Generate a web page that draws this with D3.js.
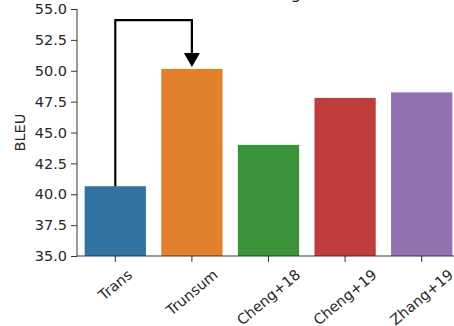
<!DOCTYPE html>
<html>
<head>
<meta charset="utf-8">
<script src="https://cdnjs.cloudflare.com/ajax/libs/d3/7.8.5/d3.min.js"></script>
<style>
  body { margin: 0; background: #fff; }
  svg { display: block; font-family: "DejaVu Sans", sans-serif; }
  .tick text { fill: #262626; }
</style>
</head>
<body>
<svg id="chart" width="454" height="326"></svg>
<script>
// data
var models = ["Trans", "Trunsum", "Cheng+18", "Cheng+19", "Zhang+19"];
var bleu = [40.65, 50.15, 44.0, 47.8, 48.25];
var colors = ["#3274a1", "#e1812c", "#3a923a", "#c03d3e", "#9372b2"];
var yTicks = [35.0, 37.5, 40.0, 42.5, 45.0, 47.5, 50.0, 52.5, 55.0];
// arrow path: from Trans bar up, across, down to Trunsum bar
var arrowCats = ["Trans", "Trans", "Trunsum", "Trunsum"];
var arrowVals = [40.65, 54.1, 54.1, 51.3];
var arrowTip = 50.3;
var title = "Training";

drawChart(d3.select("#chart"));

function drawChart(svg) {
	var plotLeft = 77, plotTop = 9, plotBottom = 256, plotRight = 460;
	var fs = 14.5;

	var x = d3.scaleBand().domain(models).range([plotLeft, plotRight]).paddingInner(0.2).paddingOuter(0.1);
	var y = d3.scaleLinear().domain([35, 55]).range([plotBottom, plotTop]);

	// title, mostly above the visible area
	svg.append("text")
		.attr("x", x("Trunsum") + x.bandwidth() / 2 + 109)
		.attr("y", -1)
		.attr("text-anchor", "end")
		.attr("font-size", 16)
		.attr("fill", "#262626")
		.text(title);

	// bars
	svg.append("g").selectAll("rect")
		.data(models)
		.enter().append("rect")
		.attr("x", function(d) { return x(d); })
		.attr("width", x.bandwidth())
		.attr("y", function(d, i) { return y(bleu[i]); })
		.attr("height", function(d, i) { return plotBottom - y(bleu[i]); })
		.attr("fill", function(d, i) { return colors[i]; });

	// y axis
	var yAxis = svg.append("g")
		.attr("transform", "translate(" + plotLeft + ",0)")
		.call(d3.axisLeft(y).tickValues(yTicks).tickFormat(d3.format(".1f")).tickSize(6).tickPadding(4));
	yAxis.selectAll("text").attr("font-size", fs).attr("font-family", "DejaVu Sans");
	yAxis.select(".domain").attr("d", "M0," + plotTop + "V" + plotBottom);

	// x axis
	var xAxis = svg.append("g")
		.attr("transform", "translate(0," + plotBottom + ")")
		.call(d3.axisBottom(x).tickSize(6).tickSizeOuter(0));
	xAxis.select(".domain").attr("d", "M" + plotLeft + ",0H" + 454);
	xAxis.selectAll(".tick text").remove();
	xAxis.selectAll("path, line").attr("stroke", "#333");
	yAxis.selectAll("path, line").attr("stroke", "#333");

	// rotated tick labels, centered under each tick like matplotlib ha=center
	var angle = 40 * Math.PI / 180;
	xAxis.selectAll(".tick").append("text")
		.attr("font-size", fs)
		.attr("font-family", "DejaVu Sans")
		.attr("fill", "#262626")
		.attr("text-anchor", "middle")
		.attr("dominant-baseline", "central")
		.text(function(d) { return d; })
		.attr("transform", function() {
			var w = this.getComputedTextLength(), h = fs;
			var bh = w * Math.sin(angle) + h * Math.cos(angle);
			return "translate(0," + (11 + bh / 2) + ") rotate(-40)";
		});

	// y label
	svg.append("text")
		.attr("transform", "translate(25," + ((plotTop + plotBottom) / 2) + ") rotate(-90)")
		.attr("text-anchor", "middle")
		.attr("font-size", fs)
		.attr("fill", "#262626")
		.text("BLEU");

	// arrow
	var pts = arrowCats.map(function(c, i) { return [x(c) + x.bandwidth() / 2, y(arrowVals[i])]; });
	svg.append("path")
		.attr("d", d3.line()(pts))
		.attr("fill", "none")
		.attr("stroke", "#000")
		.attr("stroke-width", 2.2);

	var tipX = x("Trunsum") + x.bandwidth() / 2, tipY = y(arrowTip);
	svg.append("path")
		.attr("d", "M" + (tipX - 8) + "," + (tipY - 14) + "L" + (tipX + 8) + "," + (tipY - 14) + "L" + tipX + "," + tipY + "Z")
		.attr("fill", "#000");
}
</script>
</body>
</html>
